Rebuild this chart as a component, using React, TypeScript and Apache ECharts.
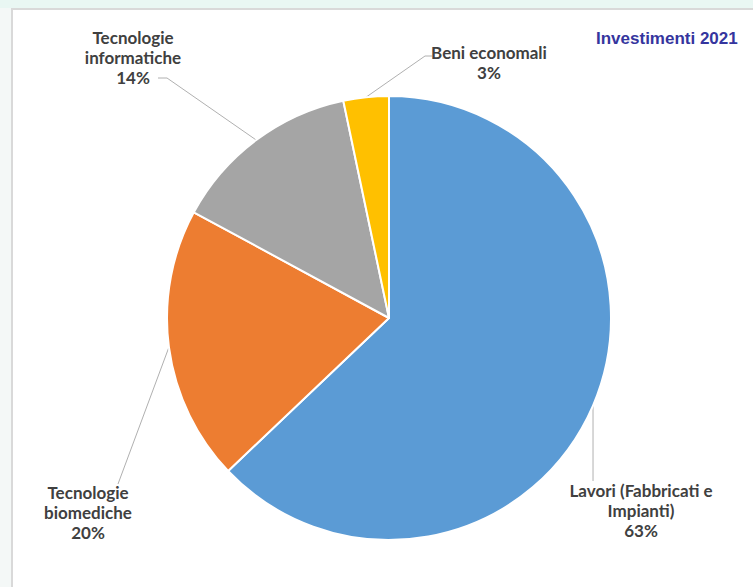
import React, { useEffect, useRef } from "react";
import * as echarts from "echarts";

const categories = [
  "Lavori (Fabbricati e Impianti)",
  "Tecnologie biomediche",
  "Tecnologie informatiche",
  "Beni economali",
];
const labelNames = [
  "Lavori (Fabbricati e\nImpianti)",
  "Tecnologie\nbiomediche",
  "Tecnologie\ninformatiche",
  "Beni economali",
];
const values = [62.9, 20.0, 13.8, 3.3];
const colors = ["#5b9bd5", "#ed7d31", "#a5a5a5", "#ffc000"];
const title = "Investimenti 2021";

// label layout (pixel positions of label centres and line elbows)
const labelPos: [number, number][] = [
  [641, 510],
  [88, 512],
  [133, 57],
  [489, 62],
];
const lineElbows: [number, number][][] = [
  [[594, 481]],
  [[118, 484]],
  [[167, 78], [158, 78]],
  [[425, 56], [432, 56]],
];

export default function App() {
  const ref = useRef<HTMLDivElement>(null);
  useEffect(() => {
    document.body.style.margin = "0";
    const chart = echarts.init(ref.current!, null, { renderer: "svg" });
    chart.setOption({
      animation: false,
      backgroundColor: "#f4f8f7",
      graphic: [
        {
          type: "rect",
          shape: { x: 0, y: 0, width: 753, height: 8 },
          style: { fill: "#e9f7f3" },
          silent: true,
          z: -10,
        },
        {
          type: "rect",
          shape: { x: 12, y: 9, width: 760, height: 600 },
          style: { fill: "#ffffff", stroke: "#d9d9d9", lineWidth: 2 },
          silent: true,
          z: -5,
        },
        {
          type: "text",
          left: 596,
          top: 30,
          style: {
            text: title,
            fill: "#35359e",
            font: "bold 17px 'Liberation Sans', Arial, sans-serif",
          },
        },
      ],
      series: [
        {
          type: "pie",
          center: [389, 318],
          radius: 222,
          startAngle: 90,
          clockwise: true,
          itemStyle: { borderColor: "#ffffff", borderWidth: 2 },
          label: {
            show: true,
            position: "outside",
            color: "#404040",
            fontFamily: "Lato, 'Noto Sans', sans-serif",
            fontWeight: "bold",
            fontSize: 17,
            lineHeight: 20,
            align: "center",
            overflow: "none",
            formatter: (p: any) =>
              labelNames[p.dataIndex] + "\n" + Math.round(p.percent) + "%",
          },
          labelLine: {
            show: true,
            lineStyle: { color: "#b0b0b0", width: 1 },
          },
          labelLayout: (p: any) => {
            const i = p.dataIndex;
            const edge = p.labelLinePoints ? p.labelLinePoints[0] : null;
            const pts = edge ? [edge, ...lineElbows[i]] : undefined;
            if (i === 0 && edge) pts![1] = [edge[0], 481];
            return {
              x: labelPos[i][0],
              y: labelPos[i][1],
              align: "center",
              verticalAlign: "middle",
              labelLinePoints: pts,
            };
          },
          data: categories.map((name, i) => ({
            name,
            value: values[i],
            itemStyle: { color: colors[i] },
          })),
        },
      ],
    });
    return () => chart.dispose();
  }, []);
  return <div ref={ref} style={{ width: 753, height: 587 }} />;
}
